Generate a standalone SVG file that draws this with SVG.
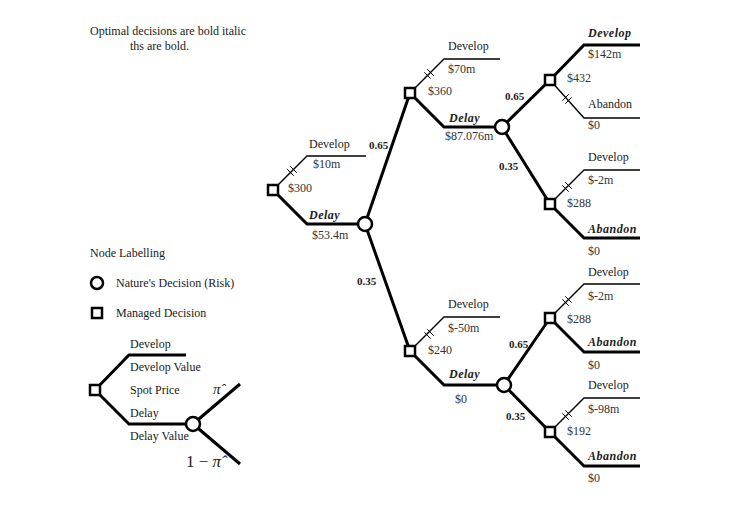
<svg xmlns="http://www.w3.org/2000/svg" xmlns:xlink="http://www.w3.org/1999/xlink" width="734" height="523" viewBox="0 0 734 523">
<style>
text{font-family:"Liberation Serif","DejaVu Serif",serif;font-size:12px;fill:#222}
.v{fill:#333}
.bi{font-weight:bold;font-style:italic;letter-spacing:0.5px}
.b{font-weight:bold;font-size:11px}
.thick{stroke:#000;stroke-width:3;fill:none}
.thin{stroke:#000;stroke-width:1.4;fill:none}
.sq{fill:#fff;stroke:#000;stroke-width:2.5}
.ci{fill:#fff;stroke:#000;stroke-width:2.5}
</style>
<defs>
<g id="hu" stroke="#000" stroke-width="1"><line x1="-4.7" y1="-1.7" x2="1.7" y2="4.7"/><line x1="-1.7" y1="-4.7" x2="4.7" y2="1.7"/></g>
</defs>
<rect width="734" height="523" fill="#fff"/>
<text x="90" y="35">Optimal decisions are bold italic</text>
<text x="130" y="50">ths are bold.</text>
<g id="connectors">
<polyline class="thin" points="273,190 307,156 366,156"/>
<polyline class="thick" points="273,190 307,224 365,224"/>
<line class="thick" x1="365" y1="224" x2="410" y2="93"/>
<line class="thick" x1="365" y1="224" x2="410" y2="351"/>
<polyline class="thin" points="410,93 444,59 500,59"/>
<polyline class="thick" points="410,93 444,127 502,127"/>
<line class="thick" x1="502" y1="127" x2="550" y2="80"/>
<line class="thick" x1="502" y1="127" x2="550" y2="204"/>
<polyline class="thick" points="550,80 584,45 640,45"/>
<polyline class="thin" points="550,80 584,118 640,118"/>
<polyline class="thin" points="550,204 584,170 640,170"/>
<polyline class="thick" points="550,204 584,238 640,238"/>
<polyline class="thin" points="410,351 444,317 500,317"/>
<polyline class="thick" points="410,351 444,385 504,385"/>
<line class="thick" x1="504" y1="385" x2="550" y2="318"/>
<line class="thick" x1="504" y1="385" x2="550" y2="432"/>
<polyline class="thin" points="550,318 584,284 640,284"/>
<polyline class="thick" points="550,318 584,352 640,352"/>
<polyline class="thin" points="550,432 584,398 640,398"/>
<polyline class="thick" points="550,432 584,466 640,466"/>
<use xlink:href="#hu" transform="translate(292,171)"/>
<use xlink:href="#hu" transform="translate(429,74)"/>
<use xlink:href="#hu" transform="translate(567,99) scale(1,-1)"/>
<use xlink:href="#hu" transform="translate(567,187)"/>
<use xlink:href="#hu" transform="translate(429,334)"/>
<use xlink:href="#hu" transform="translate(567,301)"/>
<use xlink:href="#hu" transform="translate(567,415)"/>
<polyline class="thick" points="95,390 129,355 186,355"/>
<polyline class="thick" points="95,390 129,424 193,424"/>
<line class="thick" x1="193" y1="424" x2="240" y2="384"/>
<line class="thick" x1="193" y1="424" x2="240" y2="464"/>
</g>
<g id="root"><rect class="sq" x="268" y="185" width="10" height="10"/>
<text x="309" y="148">Develop</text><text class="v" x="313" y="168">$10m</text><text class="v" x="288" y="192">$300</text>
<text class="bi" x="309" y="219">Delay</text><text class="v" x="312" y="239">$53.4m</text></g>
<g id="c1"><circle class="ci" cx="365" cy="224" r="7"/><text class="b" x="369" y="149">0.65</text><text class="b" x="357" y="285">0.35</text></g>
<g id="nA"><rect class="sq" x="405" y="88" width="10" height="10"/>
<text x="448" y="50">Develop</text><text class="v" x="448" y="73">$70m</text><text class="v" x="428" y="95">$360</text>
<text class="bi" x="449" y="122">Delay</text><text class="v" x="445" y="140">$87.076m</text></g>
<g id="c2"><circle class="ci" cx="502" cy="127" r="7"/><text class="b" x="505" y="100">0.65</text><text class="b" x="499" y="170">0.35</text></g>
<g id="nD"><rect class="sq" x="545" y="75" width="10" height="10"/>
<text class="bi" x="588" y="37">Develop</text><text class="v" x="588" y="58">$142m</text><text class="v" x="567" y="82">$432</text>
<text x="588" y="108">Abandon</text><text class="v" x="588" y="129">$0</text></g>
<g id="nE"><rect class="sq" x="545" y="199" width="10" height="10"/>
<text x="588" y="161">Develop</text><text class="v" x="588" y="184">$-2m</text><text class="v" x="567" y="207">$288</text>
<text class="bi" x="588" y="233">Abandon</text><text class="v" x="588" y="255">$0</text></g>
<g id="nB"><rect class="sq" x="405" y="346" width="10" height="10"/>
<text x="448" y="308">Develop</text><text class="v" x="448" y="332">$-50m</text><text class="v" x="428" y="354">$240</text>
<text class="bi" x="449" y="378">Delay</text><text class="v" x="455" y="403">$0</text></g>
<g id="c3"><circle class="ci" cx="504" cy="385" r="7"/><text class="b" x="509" y="348">0.65</text><text class="b" x="506" y="420">0.35</text></g>
<g id="nG"><rect class="sq" x="545" y="313" width="10" height="10"/>
<text x="588" y="276">Develop</text><text class="v" x="588" y="300">$-2m</text><text class="v" x="567" y="323">$288</text>
<text class="bi" x="588" y="346">Abandon</text><text class="v" x="588" y="369">$0</text></g>
<g id="nH"><rect class="sq" x="545" y="427" width="10" height="10"/>
<text x="588" y="389">Develop</text><text class="v" x="588" y="413">$-98m</text><text class="v" x="567" y="435">$192</text>
<text class="bi" x="588" y="460">Abandon</text><text class="v" x="588" y="482">$0</text></g>
<g id="legend">
<text x="90" y="257">Node Labelling</text>
<circle class="ci" cx="97" cy="283" r="6"/><text x="116" y="287">Nature's Decision (Risk)</text>
<rect class="sq" x="92" y="308" width="10" height="10"/><text x="116" y="317">Managed Decision</text>
<rect class="sq" x="90" y="385" width="10" height="10"/>
<circle class="ci" cx="193" cy="424" r="7"/>
<text x="130" y="348">Develop</text><text x="130" y="371">Develop Value</text><text x="130" y="394">Spot Price</text>
<text x="130" y="417">Delay</text><text x="130" y="440">Delay Value</text>
<text x="213" y="394" style="font-size:15px;font-style:italic">π̂</text>
<text x="186" y="467" style="font-size:17px">1 − <tspan font-style="italic">π̂</tspan></text>
</g>
</svg>
